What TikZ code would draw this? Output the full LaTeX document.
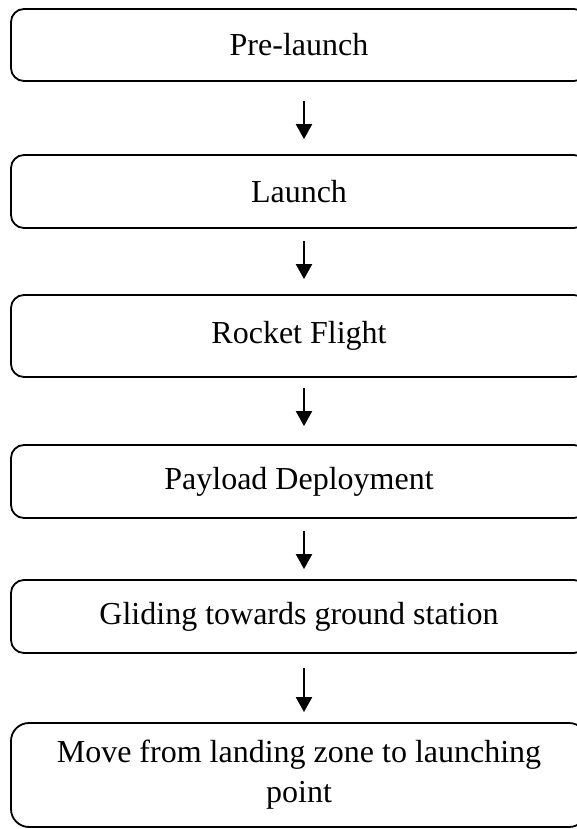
\documentclass[tikz,border=0pt]{standalone}
\usepackage{fontspec}
\setmainfont{Liberation Serif}
\usetikzlibrary{arrows.meta}
\tikzset{
  stage/.style={draw, line width=1.8pt, rounded corners=13pt, minimum width=576pt,
    inner sep=0pt, align=center, font=\fontsize{32}{40}\selectfont},
  flow/.style={-{Triangle[length=15pt,width=16pt]}, line width=2.2pt}
}

\begin{document}
\begin{tikzpicture}[x=1pt,y=-1pt]
\useasboundingbox (0,0) rectangle (577,829);
% stages of the mission
\node[stage, minimum height=72pt] (prelaunch) at (299,45) {Pre-launch};
\node[stage, minimum height=73pt] (launch) at (299,191.5) {Launch};
\node[stage, minimum height=82pt] (flight) at (299,336) {Rocket Flight};
\node[stage, minimum height=73pt] (deploy) at (299,481.5) {Payload Deployment};
\node[stage, minimum height=73pt] (glide) at (299,616.5) {Gliding towards ground station};
\node[stage, minimum height=104pt, rounded corners=18pt] (move) at (299,775) {Move from landing zone to launching\\point};

% arrows between stages
\foreach \a/\b/\s/\e in {prelaunch/launch/19/15, launch/flight/12/15, flight/deploy/10/18, deploy/glide/12/10, glide/move/14/10}
  \draw[flow, shorten <=\s pt, shorten >=\e pt] ([xshift=5pt]\a.south) -- ([xshift=5pt]\b.north);
\end{tikzpicture}
\end{document}
